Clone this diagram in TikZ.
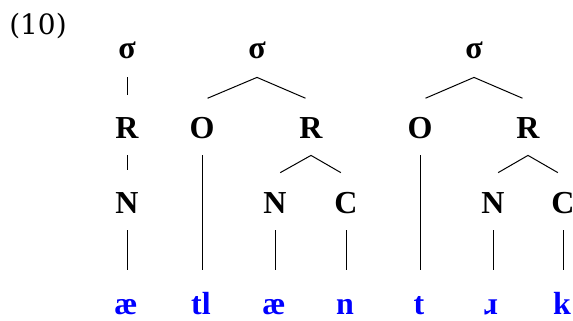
\documentclass[tikz,border=0pt]{standalone}
\usepackage{fontspec}
\setmainfont{Liberation Serif}
\newfontfamily\exnumfont{DejaVu Serif}
\begin{document}
\begin{tikzpicture}[x=0.5pt, y=-0.5pt,
    tier/.style={font=\fontsize{16}{19}\selectfont\bfseries, minimum height=27pt, inner sep=0pt},
    seg/.style={font=\fontsize{16}{19}\selectfont\bfseries, text=blue, text height=11pt, text depth=0.5pt, inner sep=0pt},
    assoc/.style={line width=0.5pt, shorten >=3pt},
    link/.style={line width=0.5pt, shorten >=11.25pt}]
    \useasboundingbox (0,0) rectangle (573,321);
    % Example number
    \node (exnum) [font=\exnumfont\fontsize{14}{17}\selectfont] at (38,26) {(10)};

    % Nodes
    \node (s1) [tier] at (127,50) {σ};
    \node (s2) [tier] at (257,50) {σ};
    \node (s3) [tier] at (474,50) {σ};
    \node (r1) [tier] at (127,128) {R};
    \node (o1) [tier] at (202,128) {O};
    \node (r2) [tier] at (311,128) {R};
    \node (o2) [tier] at (420,128) {O};
    \node (r3) [tier] at (528,128) {R};
    \node (n1) [tier] at (127,203) {N};
    \node (n2) [tier] at (275,203) {N};
    \node (c2) [tier] at (346,203) {C};
    \node (n3) [tier] at (493,203) {N};
    \node (c3) [tier] at (563,203) {C};
    \node (x1) [seg] at (126,304) {æ};
    \node (x2) [seg] at (201,304) {tl};
    \node (x3) [seg] at (274,304) {æ};
    \node (x4) [seg] at (345,304) {n};
    \node (x5) [seg] at (419,304) {t};
    \node (x6) [seg] at (491,304) {ɹ};
    \node (x7) [seg] at (562,304) {k};

    % Edges
    \draw[assoc] (s1.south) -- (r1.north);
    \draw[assoc] (s2.south) -- (o1.north);
    \draw[assoc] (s2.south) -- (r2.north);
    \draw[assoc] (s3.south) -- (o2.north);
    \draw[assoc] (s3.south) -- (r3.north);
    \draw[assoc] (r1.south) -- (n1.north);
    \draw[assoc] (r2.south) -- (n2.north);
    \draw[assoc] (r2.south) -- (c2.north);
    \draw[assoc] (r3.south) -- (n3.north);
    \draw[assoc] (r3.south) -- (c3.north);
    \draw[link] (n1.south) -- (n1.south |- x1.north);
    \draw[link] (o1.south) -- (o1.south |- x2.north);
    \draw[link] (n2.south) -- (n2.south |- x3.north);
    \draw[link] (c2.south) -- (c2.south |- x4.north);
    \draw[link] (o2.south) -- (o2.south |- x5.north);
    \draw[link] (n3.south) -- (n3.south |- x6.north);
    \draw[link] (c3.south) -- (c3.south |- x7.north);
\end{tikzpicture}
\end{document}
